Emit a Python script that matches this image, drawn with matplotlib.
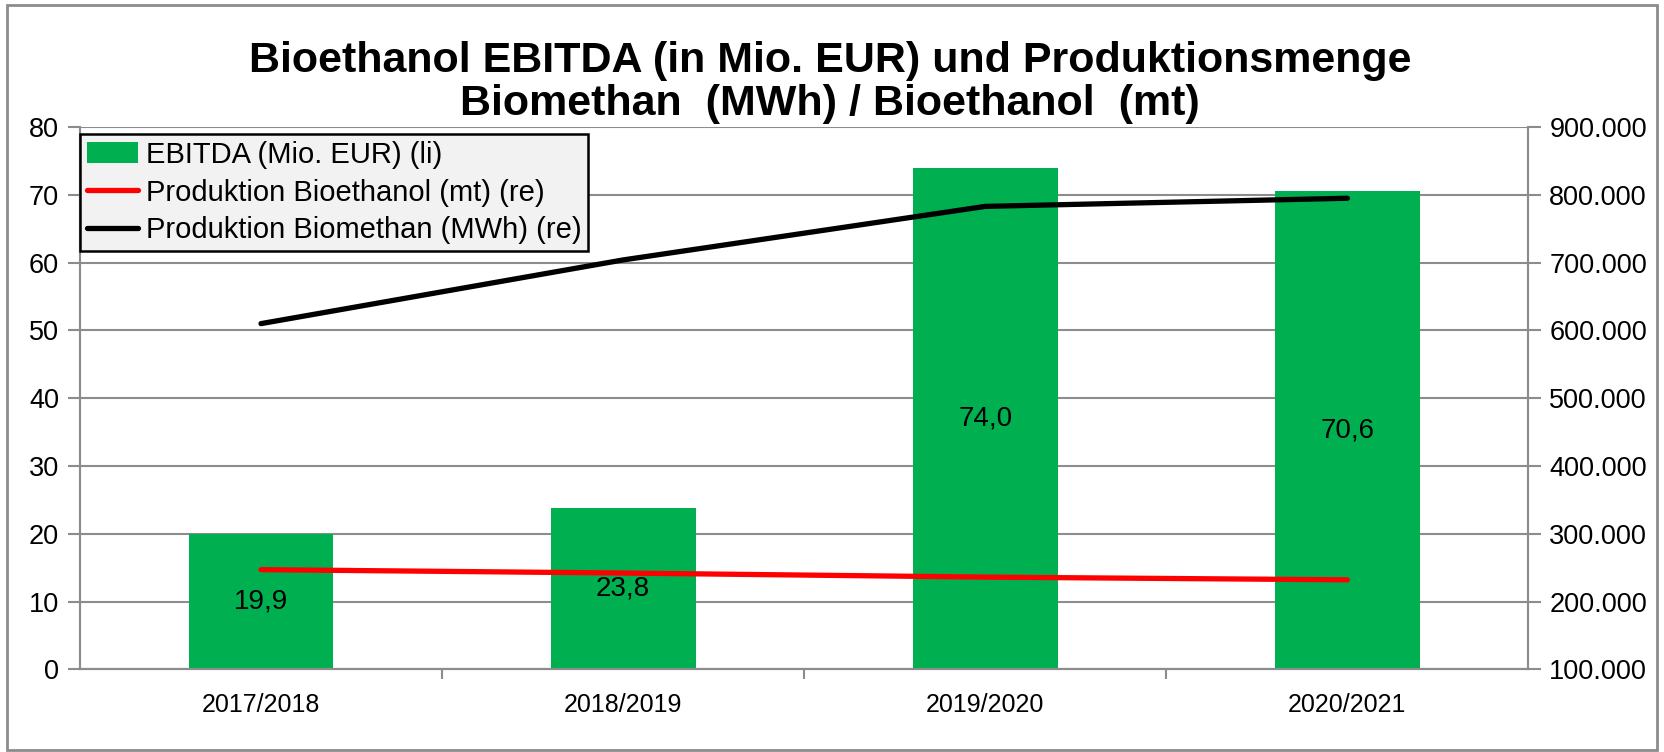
import matplotlib.pyplot as plt
from matplotlib.patches import Rectangle
from matplotlib.ticker import FuncFormatter, FixedLocator

# Data
seasons = ["2017/2018", "2018/2019", "2019/2020", "2020/2021"]
ebitda = [19.9, 23.8, 74.0, 70.6]
bioethanol_mt = [247000, 242000, 236000, 232000]
biomethan_mwh = [610000, 704000, 783000, 795000]
ebitda_labels = ["19,9", "23,8", "74,0", "70,6"]

green = "#00B050"
red = "#FF0000"
grid_gray = "#8C8C8C"

plt.rcParams["font.family"] = ["Liberation Sans", "DejaVu Sans"]

fig = plt.figure(figsize=(16.65, 7.52), dpi=100)
ax = fig.add_axes([0.048, 0.110, 0.870, 0.721])
ax2 = ax.twinx()

x = list(range(len(seasons)))
ax.bar(x, ebitda, width=0.40, color=green, zorder=2, label="EBITDA (Mio. EUR) (li)")
ax2.plot(x, bioethanol_mt, color=red, lw=3.8, solid_capstyle="round", label="Produktion Bioethanol (mt) (re)")
ax2.plot(x, biomethan_mwh, color="black", lw=3.8, solid_capstyle="round", label="Produktion Biomethan (MWh) (re)")

# value labels in the middle of each bar
for xi, v, txt in zip(x, ebitda, ebitda_labels):
    ax.text(xi, v / 2, txt, ha="center", va="center", fontsize=20, zorder=5)

ax.set_xlim(-0.5, 3.5)
ax.set_ylim(0, 80)
ax.set_yticks(range(0, 81, 10))
ax2.set_ylim(100000, 900000)
ax2.set_yticks(range(100000, 900001, 100000))
ax2.yaxis.set_major_formatter(FuncFormatter(lambda v, p: f"{int(v):,}".replace(",", ".")))

ax.set_xticks(x)
ax.set_xticklabels(seasons)
ax.xaxis.set_minor_locator(FixedLocator([0.5, 1.5, 2.5]))
ax.tick_params(axis="x", which="major", length=0, labelsize=18, pad=17)
ax.tick_params(axis="x", which="minor", length=7, color=grid_gray, width=1.5)
ax.tick_params(axis="y", length=9, color=grid_gray, width=1.5, labelsize=19.5, pad=6)
ax2.tick_params(axis="y", length=9, color=grid_gray, width=1.5, labelsize=19.5, pad=6)

ax.grid(axis="y", color=grid_gray, lw=1.5, zorder=0)
ax.set_axisbelow(True)
for a in (ax, ax2):
    a.spines["top"].set_visible(False)
    for s in ("left", "right", "bottom"):
        a.spines[s].set_color(grid_gray)
        a.spines[s].set_linewidth(1.5)

ax.set_zorder(ax2.get_zorder() - 1)
ax2.patch.set_visible(False)

h1, l1 = ax.get_legend_handles_labels()
h2, l2 = ax2.get_legend_handles_labels()
leg = ax2.legend(h1 + h2, l1 + l2, loc="upper left", bbox_to_anchor=(0.0, 0.988),
                 fontsize=21, frameon=True, fancybox=False,
                 framealpha=1, facecolor="#F2F2F2", edgecolor="black",
                 borderpad=0.25, labelspacing=0.33, handlelength=1.75, handletextpad=0.25,
                 borderaxespad=0)
leg.get_frame().set_linewidth(1.8)

fig.text(0.4985, 0.890, "Bioethanol EBITDA (in Mio. EUR) und Produktionsmenge\nBiomethan  (MWh) / Bioethanol  (mt)",
         ha="center", va="center", fontsize=31, fontweight="bold", linespacing=1.08)

fig.patches.append(Rectangle((0.004, 0.003), 0.991, 0.99, transform=fig.transFigure,
                             fill=False, edgecolor="#8C8C8C", lw=2))

plt.savefig("out.png", dpi=100)
